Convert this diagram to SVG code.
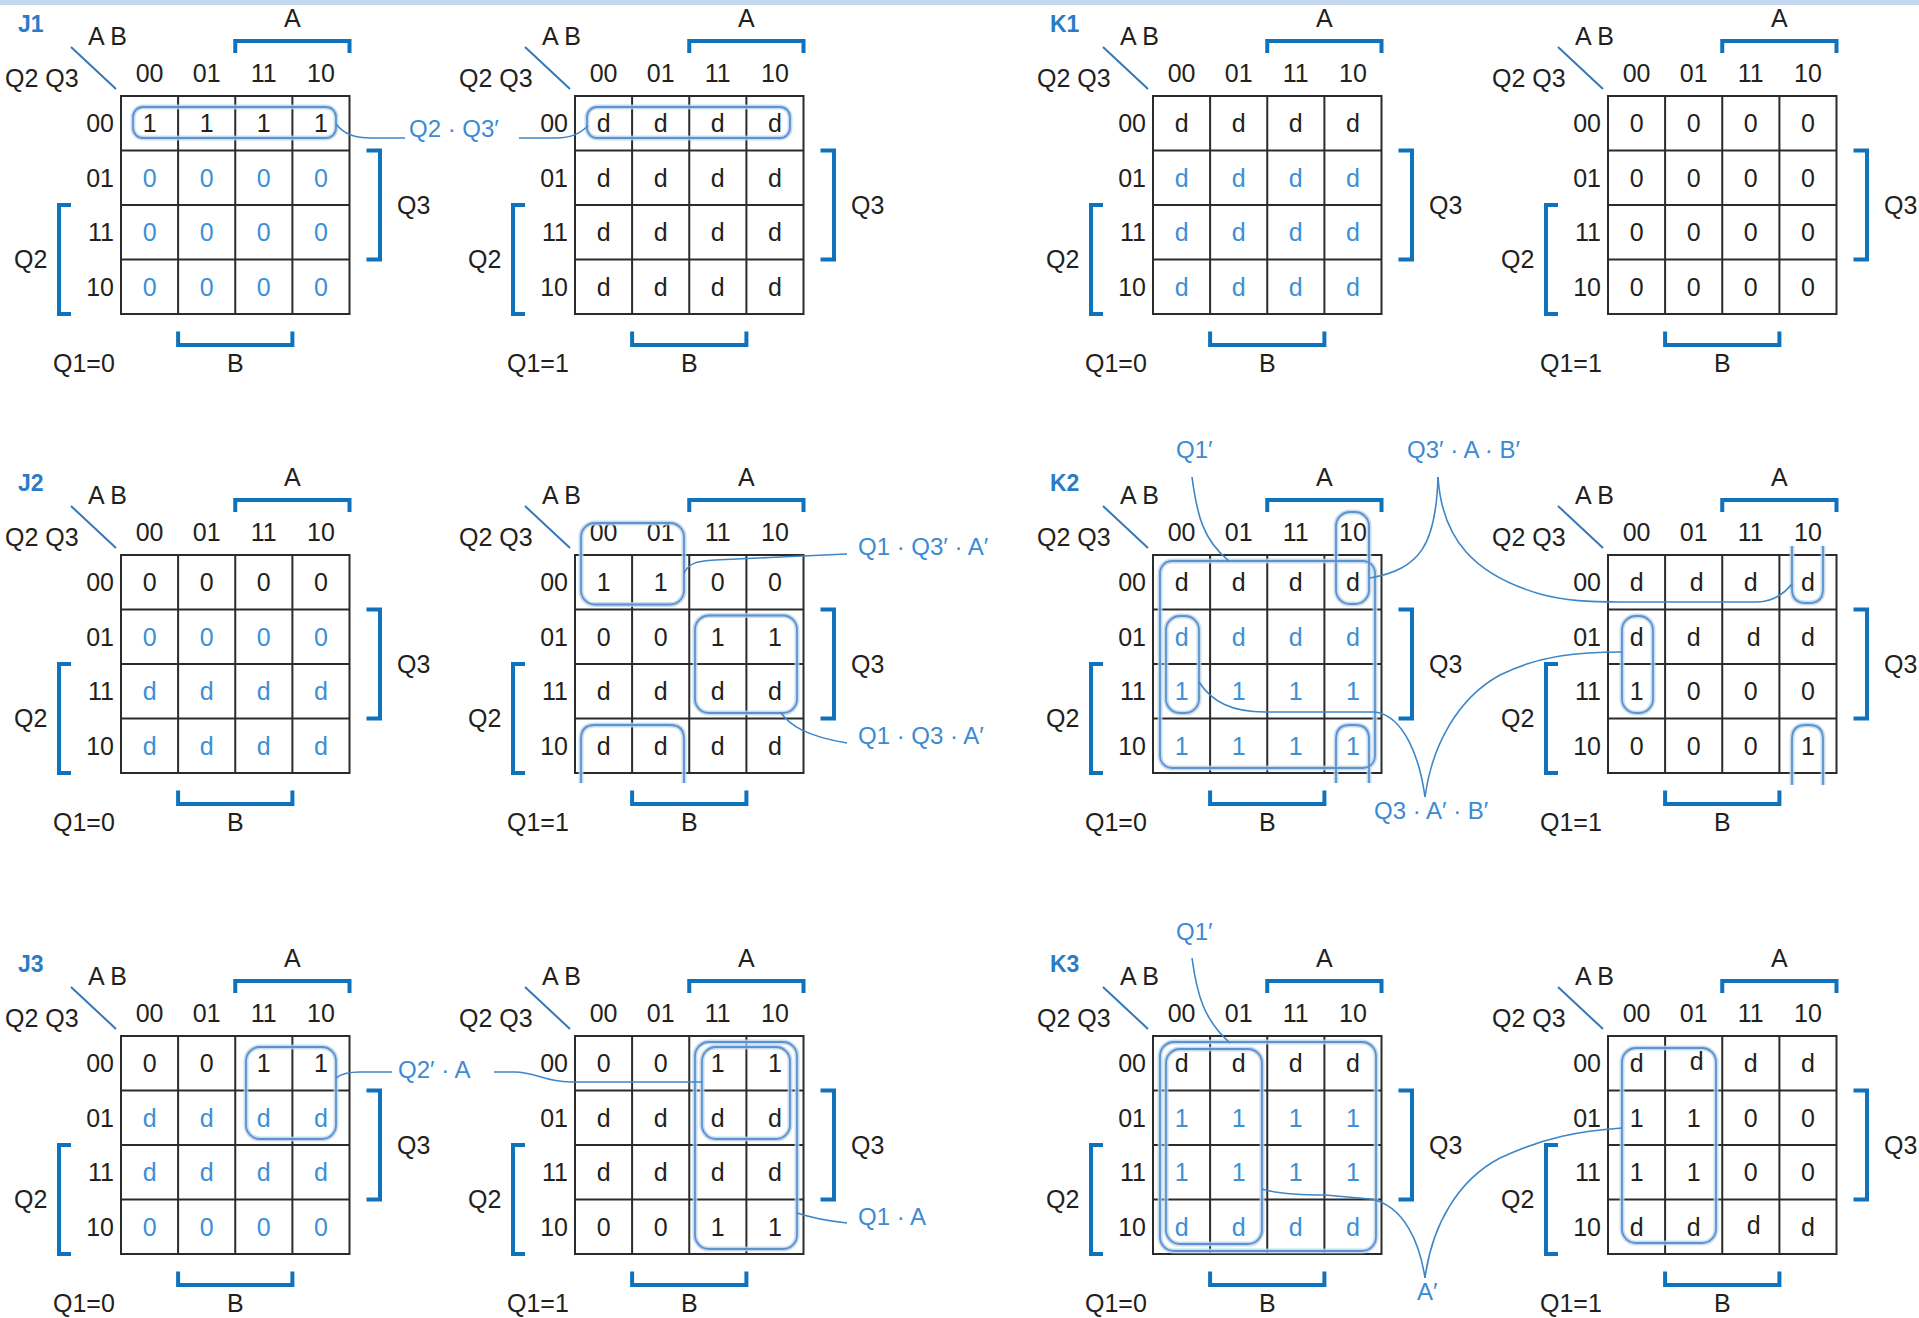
<svg xmlns="http://www.w3.org/2000/svg" xmlns:xlink="http://www.w3.org/1999/xlink" width="1919" height="1318" viewBox="0 0 1919 1318">
<style>
.t{font-family:"Liberation Sans",Arial,sans-serif;font-size:25px;fill:#231f20}
.m{text-anchor:middle}
.e{text-anchor:end}
.b{fill:#3d8fd6}
.lbl{font-family:"Liberation Sans",Arial,sans-serif;font-size:23px;font-weight:bold;fill:#2a7cc7}
.term{font-family:"Liberation Sans",Arial,sans-serif;font-size:24px;fill:#3b8ad3}
.grid{fill:none;stroke:#2b2b2b;stroke-width:2}
.brk{fill:none;stroke:#0f72bd;stroke-width:4}
.diag{stroke:#3677b6;stroke-width:2}
.halo{fill:none;stroke:#bcd3ec;stroke-width:5;opacity:0.8}
.loop{fill:none;stroke:#5a93cf;stroke-width:1.8}
.con{fill:none;stroke:#3d86c8;stroke-width:1.6}
</style>
<defs>
<g id="frame">
<rect x="0" y="0" width="228.5" height="218" class="grid"/>
<path class="grid" d="M57.1 0V218M114.25 0V218M171.4 0V218M0 54.5H228.5M0 109H228.5M0 163.5H228.5"/>
<path class="brk" d="M114.25 -43V-55H228.5V-43M245.5 54.5H259V163.5H245.5M-50 109H-62V218H-50M57.1 235.5V249H171.4V235.5"/>
<line class="diag" x1="-50" y1="-49" x2="-5" y2="-7"/>
</g>
</defs>
<rect x="0" y="0" width="1919" height="5" fill="#c5d8ef"/>

<!-- J1 Q1=0 -->
<g id="map-j1-q1-0" transform="translate(121 96)">
<use href="#frame" xlink:href="#frame"/>
<text class="lbl" x="-103" y="-64">J1</text>
<text class="t" x="-116" y="-9">Q2 Q3</text><text class="t" x="-33" y="-51">A B</text><text class="t m" x="171.4" y="-69">A</text>
<text class="t m" x="28.6" y="-14">00</text><text class="t m" x="85.7" y="-14">01</text><text class="t m" x="142.8" y="-14">11</text><text class="t m" x="199.9" y="-14">10</text>
<text class="t e" x="-7" y="36">00</text><text class="t e" x="-7" y="90.5">01</text><text class="t e" x="-7" y="145">11</text><text class="t e" x="-7" y="199.5">10</text>
<text class="t" x="276" y="118">Q3</text><text class="t" x="-107" y="172">Q2</text><text class="t m" x="114.25" y="276">B</text><text class="t" x="-68" y="276">Q1=0</text>
<g class="t m"><text x="28.6" y="36">1</text><text x="85.7" y="36">1</text><text x="142.8" y="36">1</text><text x="199.9" y="36">1</text></g>
<g class="t m b"><text x="28.6" y="90.5">0</text><text x="85.7" y="90.5">0</text><text x="142.8" y="90.5">0</text><text x="199.9" y="90.5">0</text>
<text x="28.6" y="145">0</text><text x="85.7" y="145">0</text><text x="142.8" y="145">0</text><text x="199.9" y="145">0</text>
<text x="28.6" y="199.5">0</text><text x="85.7" y="199.5">0</text><text x="142.8" y="199.5">0</text><text x="199.9" y="199.5">0</text></g>
</g>

<!-- J1 Q1=1 -->
<g id="map-j1-q1-1" transform="translate(575 96)">
<use href="#frame" xlink:href="#frame"/>
<text class="t" x="-116" y="-9">Q2 Q3</text><text class="t" x="-33" y="-51">A B</text><text class="t m" x="171.4" y="-69">A</text>
<text class="t m" x="28.6" y="-14">00</text><text class="t m" x="85.7" y="-14">01</text><text class="t m" x="142.8" y="-14">11</text><text class="t m" x="199.9" y="-14">10</text>
<text class="t e" x="-7" y="36">00</text><text class="t e" x="-7" y="90.5">01</text><text class="t e" x="-7" y="145">11</text><text class="t e" x="-7" y="199.5">10</text>
<text class="t" x="276" y="118">Q3</text><text class="t" x="-107" y="172">Q2</text><text class="t m" x="114.25" y="276">B</text><text class="t" x="-68" y="276">Q1=1</text>
<g class="t m"><text x="28.6" y="36">d</text><text x="85.7" y="36">d</text><text x="142.8" y="36">d</text><text x="199.9" y="36">d</text>
<text x="28.6" y="90.5">d</text><text x="85.7" y="90.5">d</text><text x="142.8" y="90.5">d</text><text x="199.9" y="90.5">d</text>
<text x="28.6" y="145">d</text><text x="85.7" y="145">d</text><text x="142.8" y="145">d</text><text x="199.9" y="145">d</text>
<text x="28.6" y="199.5">d</text><text x="85.7" y="199.5">d</text><text x="142.8" y="199.5">d</text><text x="199.9" y="199.5">d</text></g>
</g>

<!-- K1 Q1=0 -->
<g id="map-k1-q1-0" transform="translate(1153 96)">
<use href="#frame" xlink:href="#frame"/>
<text class="lbl" x="-103" y="-64">K1</text>
<text class="t" x="-116" y="-9">Q2 Q3</text><text class="t" x="-33" y="-51">A B</text><text class="t m" x="171.4" y="-69">A</text>
<text class="t m" x="28.6" y="-14">00</text><text class="t m" x="85.7" y="-14">01</text><text class="t m" x="142.8" y="-14">11</text><text class="t m" x="199.9" y="-14">10</text>
<text class="t e" x="-7" y="36">00</text><text class="t e" x="-7" y="90.5">01</text><text class="t e" x="-7" y="145">11</text><text class="t e" x="-7" y="199.5">10</text>
<text class="t" x="276" y="118">Q3</text><text class="t" x="-107" y="172">Q2</text><text class="t m" x="114.25" y="276">B</text><text class="t" x="-68" y="276">Q1=0</text>
<g class="t m"><text x="28.6" y="36">d</text><text x="85.7" y="36">d</text><text x="142.8" y="36">d</text><text x="199.9" y="36">d</text></g>
<g class="t m b"><text x="28.6" y="90.5">d</text><text x="85.7" y="90.5">d</text><text x="142.8" y="90.5">d</text><text x="199.9" y="90.5">d</text>
<text x="28.6" y="145">d</text><text x="85.7" y="145">d</text><text x="142.8" y="145">d</text><text x="199.9" y="145">d</text>
<text x="28.6" y="199.5">d</text><text x="85.7" y="199.5">d</text><text x="142.8" y="199.5">d</text><text x="199.9" y="199.5">d</text></g>
</g>

<!-- K1 Q1=1 -->
<g id="map-k1-q1-1" transform="translate(1608 96)">
<use href="#frame" xlink:href="#frame"/>
<text class="t" x="-116" y="-9">Q2 Q3</text><text class="t" x="-33" y="-51">A B</text><text class="t m" x="171.4" y="-69">A</text>
<text class="t m" x="28.6" y="-14">00</text><text class="t m" x="85.7" y="-14">01</text><text class="t m" x="142.8" y="-14">11</text><text class="t m" x="199.9" y="-14">10</text>
<text class="t e" x="-7" y="36">00</text><text class="t e" x="-7" y="90.5">01</text><text class="t e" x="-7" y="145">11</text><text class="t e" x="-7" y="199.5">10</text>
<text class="t" x="276" y="118">Q3</text><text class="t" x="-107" y="172">Q2</text><text class="t m" x="114.25" y="276">B</text><text class="t" x="-68" y="276">Q1=1</text>
<g class="t m"><text x="28.6" y="36">0</text><text x="85.7" y="36">0</text><text x="142.8" y="36">0</text><text x="199.9" y="36">0</text>
<text x="28.6" y="90.5">0</text><text x="85.7" y="90.5">0</text><text x="142.8" y="90.5">0</text><text x="199.9" y="90.5">0</text>
<text x="28.6" y="145">0</text><text x="85.7" y="145">0</text><text x="142.8" y="145">0</text><text x="199.9" y="145">0</text>
<text x="28.6" y="199.5">0</text><text x="85.7" y="199.5">0</text><text x="142.8" y="199.5">0</text><text x="199.9" y="199.5">0</text></g>
</g>

<!-- J2 Q1=0 -->
<g id="map-j2-q1-0" transform="translate(121 555)">
<use href="#frame" xlink:href="#frame"/>
<text class="lbl" x="-103" y="-64">J2</text>
<text class="t" x="-116" y="-9">Q2 Q3</text><text class="t" x="-33" y="-51">A B</text><text class="t m" x="171.4" y="-69">A</text>
<text class="t m" x="28.6" y="-14">00</text><text class="t m" x="85.7" y="-14">01</text><text class="t m" x="142.8" y="-14">11</text><text class="t m" x="199.9" y="-14">10</text>
<text class="t e" x="-7" y="36">00</text><text class="t e" x="-7" y="90.5">01</text><text class="t e" x="-7" y="145">11</text><text class="t e" x="-7" y="199.5">10</text>
<text class="t" x="276" y="118">Q3</text><text class="t" x="-107" y="172">Q2</text><text class="t m" x="114.25" y="276">B</text><text class="t" x="-68" y="276">Q1=0</text>
<g class="t m"><text x="28.6" y="36">0</text><text x="85.7" y="36">0</text><text x="142.8" y="36">0</text><text x="199.9" y="36">0</text></g>
<g class="t m b"><text x="28.6" y="90.5">0</text><text x="85.7" y="90.5">0</text><text x="142.8" y="90.5">0</text><text x="199.9" y="90.5">0</text>
<text x="28.6" y="145">d</text><text x="85.7" y="145">d</text><text x="142.8" y="145">d</text><text x="199.9" y="145">d</text>
<text x="28.6" y="199.5">d</text><text x="85.7" y="199.5">d</text><text x="142.8" y="199.5">d</text><text x="199.9" y="199.5">d</text></g>
</g>

<!-- J2 Q1=1 -->
<g id="map-j2-q1-1" transform="translate(575 555)">
<use href="#frame" xlink:href="#frame"/>
<text class="t" x="-116" y="-9">Q2 Q3</text><text class="t" x="-33" y="-51">A B</text><text class="t m" x="171.4" y="-69">A</text>
<text class="t m" x="28.6" y="-14">00</text><text class="t m" x="85.7" y="-14">01</text><text class="t m" x="142.8" y="-14">11</text><text class="t m" x="199.9" y="-14">10</text>
<text class="t e" x="-7" y="36">00</text><text class="t e" x="-7" y="90.5">01</text><text class="t e" x="-7" y="145">11</text><text class="t e" x="-7" y="199.5">10</text>
<text class="t" x="276" y="118">Q3</text><text class="t" x="-107" y="172">Q2</text><text class="t m" x="114.25" y="276">B</text><text class="t" x="-68" y="276">Q1=1</text>
<g class="t m"><text x="28.6" y="36">1</text><text x="85.7" y="36">1</text><text x="142.8" y="36">0</text><text x="199.9" y="36">0</text>
<text x="28.6" y="90.5">0</text><text x="85.7" y="90.5">0</text><text x="142.8" y="90.5">1</text><text x="199.9" y="90.5">1</text>
<text x="28.6" y="145">d</text><text x="85.7" y="145">d</text><text x="142.8" y="145">d</text><text x="199.9" y="145">d</text>
<text x="28.6" y="199.5">d</text><text x="85.7" y="199.5">d</text><text x="142.8" y="199.5">d</text><text x="199.9" y="199.5">d</text></g>
</g>

<!-- K2 Q1=0 -->
<g id="map-k2-q1-0" transform="translate(1153 555)">
<use href="#frame" xlink:href="#frame"/>
<text class="lbl" x="-103" y="-64">K2</text>
<text class="t" x="-116" y="-9">Q2 Q3</text><text class="t" x="-33" y="-51">A B</text><text class="t m" x="171.4" y="-69">A</text>
<text class="t m" x="28.6" y="-14">00</text><text class="t m" x="85.7" y="-14">01</text><text class="t m" x="142.8" y="-14">11</text><text class="t m" x="199.9" y="-14">10</text>
<text class="t e" x="-7" y="36">00</text><text class="t e" x="-7" y="90.5">01</text><text class="t e" x="-7" y="145">11</text><text class="t e" x="-7" y="199.5">10</text>
<text class="t" x="276" y="118">Q3</text><text class="t" x="-107" y="172">Q2</text><text class="t m" x="114.25" y="276">B</text><text class="t" x="-68" y="276">Q1=0</text>
<g class="t m"><text x="28.6" y="36">d</text><text x="85.7" y="36">d</text><text x="142.8" y="36">d</text><text x="199.9" y="36">d</text></g>
<g class="t m b"><text x="28.6" y="90.5">d</text><text x="85.7" y="90.5">d</text><text x="142.8" y="90.5">d</text><text x="199.9" y="90.5">d</text>
<text x="28.6" y="145">1</text><text x="85.7" y="145">1</text><text x="142.8" y="145">1</text><text x="199.9" y="145">1</text>
<text x="28.6" y="199.5">1</text><text x="85.7" y="199.5">1</text><text x="142.8" y="199.5">1</text><text x="199.9" y="199.5">1</text></g>
</g>

<!-- K2 Q1=1 -->
<g id="map-k2-q1-1" transform="translate(1608 555)">
<use href="#frame" xlink:href="#frame"/>
<text class="t" x="-116" y="-9">Q2 Q3</text><text class="t" x="-33" y="-51">A B</text><text class="t m" x="171.4" y="-69">A</text>
<text class="t m" x="28.6" y="-14">00</text><text class="t m" x="85.7" y="-14">01</text><text class="t m" x="142.8" y="-14">11</text><text class="t m" x="199.9" y="-14">10</text>
<text class="t e" x="-7" y="36">00</text><text class="t e" x="-7" y="90.5">01</text><text class="t e" x="-7" y="145">11</text><text class="t e" x="-7" y="199.5">10</text>
<text class="t" x="276" y="118">Q3</text><text class="t" x="-107" y="172">Q2</text><text class="t m" x="114.25" y="276">B</text><text class="t" x="-68" y="276">Q1=1</text>
<g class="t m"><text x="28.6" y="36">d</text><text x="88.7" y="36">d</text><text x="142.8" y="36">d</text><text x="199.9" y="36">d</text>
<text x="28.6" y="90.5">d</text><text x="85.7" y="90.5">d</text><text x="145.8" y="90.5">d</text><text x="199.9" y="90.5">d</text>
<text x="28.6" y="145">1</text><text x="85.7" y="145">0</text><text x="142.8" y="145">0</text><text x="199.9" y="145">0</text>
<text x="28.6" y="199.5">0</text><text x="85.7" y="199.5">0</text><text x="142.8" y="199.5">0</text><text x="199.9" y="199.5">1</text></g>
</g>

<!-- J3 Q1=0 -->
<g id="map-j3-q1-0" transform="translate(121 1036)">
<use href="#frame" xlink:href="#frame"/>
<text class="lbl" x="-103" y="-64">J3</text>
<text class="t" x="-116" y="-9">Q2 Q3</text><text class="t" x="-33" y="-51">A B</text><text class="t m" x="171.4" y="-69">A</text>
<text class="t m" x="28.6" y="-14">00</text><text class="t m" x="85.7" y="-14">01</text><text class="t m" x="142.8" y="-14">11</text><text class="t m" x="199.9" y="-14">10</text>
<text class="t e" x="-7" y="36">00</text><text class="t e" x="-7" y="90.5">01</text><text class="t e" x="-7" y="145">11</text><text class="t e" x="-7" y="199.5">10</text>
<text class="t" x="276" y="118">Q3</text><text class="t" x="-107" y="172">Q2</text><text class="t m" x="114.25" y="276">B</text><text class="t" x="-68" y="276">Q1=0</text>
<g class="t m"><text x="28.6" y="36">0</text><text x="85.7" y="36">0</text><text x="142.8" y="36">1</text><text x="199.9" y="36">1</text></g>
<g class="t m b"><text x="28.6" y="90.5">d</text><text x="85.7" y="90.5">d</text><text x="142.8" y="90.5">d</text><text x="199.9" y="90.5">d</text>
<text x="28.6" y="145">d</text><text x="85.7" y="145">d</text><text x="142.8" y="145">d</text><text x="199.9" y="145">d</text>
<text x="28.6" y="199.5">0</text><text x="85.7" y="199.5">0</text><text x="142.8" y="199.5">0</text><text x="199.9" y="199.5">0</text></g>
</g>

<!-- J3 Q1=1 -->
<g id="map-j3-q1-1" transform="translate(575 1036)">
<use href="#frame" xlink:href="#frame"/>
<text class="t" x="-116" y="-9">Q2 Q3</text><text class="t" x="-33" y="-51">A B</text><text class="t m" x="171.4" y="-69">A</text>
<text class="t m" x="28.6" y="-14">00</text><text class="t m" x="85.7" y="-14">01</text><text class="t m" x="142.8" y="-14">11</text><text class="t m" x="199.9" y="-14">10</text>
<text class="t e" x="-7" y="36">00</text><text class="t e" x="-7" y="90.5">01</text><text class="t e" x="-7" y="145">11</text><text class="t e" x="-7" y="199.5">10</text>
<text class="t" x="276" y="118">Q3</text><text class="t" x="-107" y="172">Q2</text><text class="t m" x="114.25" y="276">B</text><text class="t" x="-68" y="276">Q1=1</text>
<g class="t m"><text x="28.6" y="36">0</text><text x="85.7" y="36">0</text><text x="142.8" y="36">1</text><text x="199.9" y="36">1</text>
<text x="28.6" y="90.5">d</text><text x="85.7" y="90.5">d</text><text x="142.8" y="90.5">d</text><text x="199.9" y="90.5">d</text>
<text x="28.6" y="145">d</text><text x="85.7" y="145">d</text><text x="142.8" y="145">d</text><text x="199.9" y="145">d</text>
<text x="28.6" y="199.5">0</text><text x="85.7" y="199.5">0</text><text x="142.8" y="199.5">1</text><text x="199.9" y="199.5">1</text></g>
</g>

<!-- K3 Q1=0 -->
<g id="map-k3-q1-0" transform="translate(1153 1036)">
<use href="#frame" xlink:href="#frame"/>
<text class="lbl" x="-103" y="-64">K3</text>
<text class="t" x="-116" y="-9">Q2 Q3</text><text class="t" x="-33" y="-51">A B</text><text class="t m" x="171.4" y="-69">A</text>
<text class="t m" x="28.6" y="-14">00</text><text class="t m" x="85.7" y="-14">01</text><text class="t m" x="142.8" y="-14">11</text><text class="t m" x="199.9" y="-14">10</text>
<text class="t e" x="-7" y="36">00</text><text class="t e" x="-7" y="90.5">01</text><text class="t e" x="-7" y="145">11</text><text class="t e" x="-7" y="199.5">10</text>
<text class="t" x="276" y="118">Q3</text><text class="t" x="-107" y="172">Q2</text><text class="t m" x="114.25" y="276">B</text><text class="t" x="-68" y="276">Q1=0</text>
<g class="t m"><text x="28.6" y="36">d</text><text x="85.7" y="36">d</text><text x="142.8" y="36">d</text><text x="199.9" y="36">d</text></g>
<g class="t m b"><text x="28.6" y="90.5">1</text><text x="85.7" y="90.5">1</text><text x="142.8" y="90.5">1</text><text x="199.9" y="90.5">1</text>
<text x="28.6" y="145">1</text><text x="85.7" y="145">1</text><text x="142.8" y="145">1</text><text x="199.9" y="145">1</text>
<text x="28.6" y="199.5">d</text><text x="85.7" y="199.5">d</text><text x="142.8" y="199.5">d</text><text x="199.9" y="199.5">d</text></g>
</g>

<!-- K3 Q1=1 -->
<g id="map-k3-q1-1" transform="translate(1608 1036)">
<use href="#frame" xlink:href="#frame"/>
<text class="t" x="-116" y="-9">Q2 Q3</text><text class="t" x="-33" y="-51">A B</text><text class="t m" x="171.4" y="-69">A</text>
<text class="t m" x="28.6" y="-14">00</text><text class="t m" x="85.7" y="-14">01</text><text class="t m" x="142.8" y="-14">11</text><text class="t m" x="199.9" y="-14">10</text>
<text class="t e" x="-7" y="36">00</text><text class="t e" x="-7" y="90.5">01</text><text class="t e" x="-7" y="145">11</text><text class="t e" x="-7" y="199.5">10</text>
<text class="t" x="276" y="118">Q3</text><text class="t" x="-107" y="172">Q2</text><text class="t m" x="114.25" y="276">B</text><text class="t" x="-68" y="276">Q1=1</text>
<g class="t m"><text x="28.6" y="36">d</text><text x="88.7" y="34">d</text><text x="142.8" y="36">d</text><text x="199.9" y="36">d</text>
<text x="28.6" y="90.5">1</text><text x="85.7" y="90.5">1</text><text x="142.8" y="90.5">0</text><text x="199.9" y="90.5">0</text>
<text x="28.6" y="145">1</text><text x="85.7" y="145">1</text><text x="142.8" y="145">0</text><text x="199.9" y="145">0</text>
<text x="28.6" y="199.5">d</text><text x="85.7" y="199.5">d</text><text x="145.8" y="197.5">d</text><text x="199.9" y="199.5">d</text></g>
</g>

<!-- groupings (loops) -->
<g id="loops">
<g class="halo">
<rect x="133" y="107" width="203" height="31" rx="10"/>
<rect x="587" y="107" width="203" height="31" rx="10"/>
<rect x="581" y="523" width="103" height="81.5" rx="14"/>
<path d="M581 783V739Q581 725 595 725H670Q684 725 684 739V783"/>
<rect x="695" y="615.5" width="102" height="97.5" rx="14"/>
<rect x="1160" y="561" width="215" height="207" rx="12"/>
<rect x="1336" y="512" width="33" height="92" rx="14"/>
<path d="M1336 783V739Q1336 725 1350 725H1355Q1369 725 1369 739V783"/>
<rect x="1166" y="616" width="33" height="97" rx="14"/>
<path d="M1792 546V589Q1792 603 1806 603H1809Q1823 603 1823 589V546"/>
<path d="M1792 785V739Q1792 725 1806 725H1809Q1823 725 1823 739V785"/>
<rect x="1622" y="616" width="31" height="97" rx="14"/>
<rect x="246" y="1047" width="90" height="92" rx="14"/>
<rect x="702" y="1047" width="88" height="92" rx="14"/>
<rect x="695" y="1042" width="102" height="207" rx="14"/>
<rect x="1160" y="1042" width="216" height="209" rx="14"/>
<rect x="1166" y="1049" width="96" height="195" rx="14"/>
<rect x="1622" y="1048" width="94" height="195" rx="14"/>
</g>
<g class="loop">
<rect x="133" y="107" width="203" height="31" rx="10"/>
<rect x="587" y="107" width="203" height="31" rx="10"/>
<rect x="581" y="523" width="103" height="81.5" rx="14"/>
<path d="M581 783V739Q581 725 595 725H670Q684 725 684 739V783"/>
<rect x="695" y="615.5" width="102" height="97.5" rx="14"/>
<rect x="1160" y="561" width="215" height="207" rx="12"/>
<rect x="1336" y="512" width="33" height="92" rx="14"/>
<path d="M1336 783V739Q1336 725 1350 725H1355Q1369 725 1369 739V783"/>
<rect x="1166" y="616" width="33" height="97" rx="14"/>
<path d="M1792 546V589Q1792 603 1806 603H1809Q1823 603 1823 589V546"/>
<path d="M1792 785V739Q1792 725 1806 725H1809Q1823 725 1823 739V785"/>
<rect x="1622" y="616" width="31" height="97" rx="14"/>
<rect x="246" y="1047" width="90" height="92" rx="14"/>
<rect x="702" y="1047" width="88" height="92" rx="14"/>
<rect x="695" y="1042" width="102" height="207" rx="14"/>
<rect x="1160" y="1042" width="216" height="209" rx="14"/>
<rect x="1166" y="1049" width="96" height="195" rx="14"/>
<rect x="1622" y="1048" width="94" height="195" rx="14"/>
</g>
</g>

<!-- connectors -->
<g id="connectors" class="con">
<path d="M336 124C344 134 354 138 372 138L405 138"/>
<path d="M519 138L556 138C572 138 580 133 588 126"/>
<path d="M684 573C689 563 697 561 715 560C760 558 800 556 847 554"/>
<path d="M781 713C790 725 805 736 847 743"/>
<path d="M1192 477C1197 515 1203 540 1229 561"/>
<path d="M1438 477C1436 545 1420 569 1370 578"/>
<path d="M1438 477C1442 540 1475 575 1540 594C1565 601 1590 602 1620 602L1757 602C1772 602 1783 595 1792 584"/>
<path d="M1199 682C1212 702 1232 712 1265 712L1375 712C1405 716 1420 760 1425 797"/>
<path d="M1425 797C1432 745 1458 698 1500 675C1540 655 1580 652 1622 652"/>
<path d="M336 1078C342 1073 350 1072 360 1072L392 1072"/>
<path d="M494 1072L515 1072C535 1072 545 1082 570 1082L702 1082"/>
<path d="M797 1213C812 1218 828 1221 847 1223"/>
<path d="M1192 958C1197 995 1204 1020 1230 1043"/>
<path d="M1262 1189C1275 1193 1300 1195 1325 1195L1370 1199C1405 1205 1420 1245 1425 1278"/>
<path d="M1425 1278C1432 1225 1458 1180 1500 1158C1545 1137 1580 1131 1622 1128"/>
</g>

<!-- term labels -->
<g id="terms" class="term">
<text x="409" y="137">Q2 · Q3′</text>
<text x="858" y="555">Q1 · Q3′ · A′</text>
<text x="858" y="744">Q1 · Q3 · A′</text>
<text x="1176" y="458">Q1′</text>
<text x="1407" y="458">Q3′ · A · B′</text>
<text x="1374" y="819">Q3 · A′ · B′</text>
<text x="398" y="1078">Q2′ · A</text>
<text x="858" y="1225">Q1 · A</text>
<text x="1176" y="940">Q1′</text>
<text x="1417" y="1300">A′</text>
</g>
</svg>
